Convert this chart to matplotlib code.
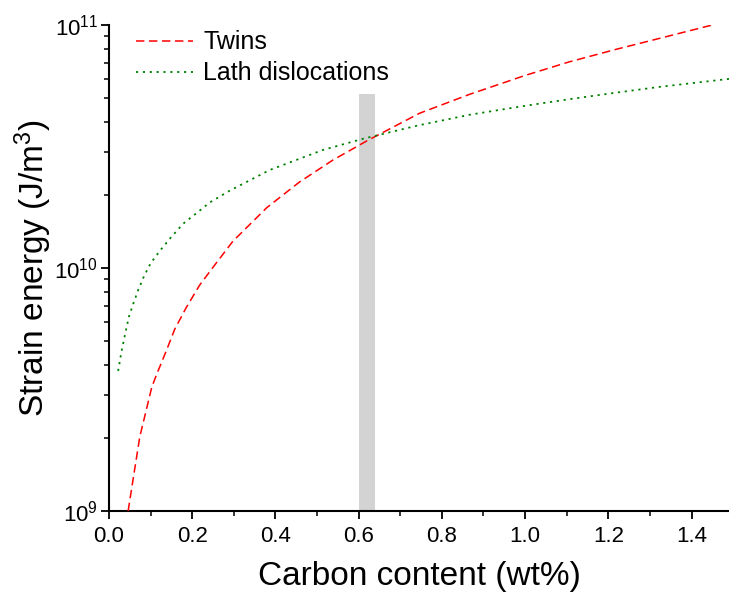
import matplotlib
matplotlib.use("Agg")
import matplotlib.pyplot as plt
from matplotlib.ticker import MultipleLocator, LogLocator

plt.rcParams['font.family'] = ['Liberation Sans', 'DejaVu Sans']
plt.rcParams['mathtext.fontset'] = 'custom'
plt.rcParams['mathtext.rm'] = 'Liberation Sans'
plt.rcParams['mathtext.it'] = 'Liberation Sans'

# Data
twins_x = [0.046, 0.074, 0.103, 0.114, 0.137, 0.158, 0.186, 0.218, 0.254, 0.298,
           0.379, 0.458, 0.538, 0.619, 0.746, 0.866, 1.000, 1.106, 1.220, 1.322, 1.450]
twins_y = [1.0e9, 2.02e9, 3.24e9, 3.63e9, 4.53e9, 5.6e9, 6.89e9, 8.51e9, 1.028e10, 1.29e10,
           1.77e10, 2.26e10, 2.78e10, 3.33e10, 4.33e10, 5.18e10, 6.2e10, 7.05e10, 7.95e10,
           8.8e10, 1.0e11]

lath_x = [0.022, 0.030, 0.040, 0.048, 0.058, 0.070, 0.084, 0.100, 0.122, 0.149,
          0.178, 0.210, 0.242, 0.290, 0.386, 0.514, 0.610, 0.740, 0.866, 1.000,
          1.106, 1.220, 1.322, 1.490]
lath_y = [3.77e9, 4.53e9, 5.47e9, 6.31e9, 7.1e9, 8.1e9, 9.24e9, 1.045e10, 1.175e10, 1.337e10,
          1.52e10, 1.68e10, 1.86e10, 2.08e10, 2.53e10, 3.06e10, 3.40e10, 3.85e10, 4.27e10, 4.65e10,
          4.95e10, 5.27e10, 5.56e10, 6.0e10]

band_x = [0.60, 0.64]
band_top = 5.2e10
band_bottom = 1e9

labels = ["Twins", "Lath dislocations"]

fig = plt.figure(figsize=(7.29, 5.92), dpi=100)
ax = fig.add_axes([0.1495, 0.1368, 0.8505, 0.821])

ax.fill_between(band_x, band_bottom, band_top, color='#d3d3d3', linewidth=0, zorder=1)
ax.plot(twins_x, twins_y, color='#ff0000', linestyle=(0, (5.5, 3)), linewidth=1.1,
        label=labels[0], zorder=3)
ax.plot(lath_x, lath_y, color='#008000', linestyle=(0, (1.2, 2.6)), linewidth=1.3,
        label=labels[1], zorder=3)

ax.set_yscale('log')
ax.set_ylim(1e9, 1e11)
ax.set_xlim(0, 1.49)

ax.xaxis.set_major_locator(MultipleLocator(0.2))
ax.xaxis.set_minor_locator(MultipleLocator(0.1))
ax.xaxis.set_major_formatter(matplotlib.ticker.FormatStrFormatter('%.1f'))
ax.yaxis.set_major_locator(LogLocator(base=10, numticks=10))
ax.yaxis.set_minor_locator(LogLocator(base=10, subs=range(2, 10), numticks=20))
ax.yaxis.set_minor_formatter(matplotlib.ticker.NullFormatter())

for s in ['top', 'right']:
    ax.spines[s].set_visible(False)
for s in ['left', 'bottom']:
    ax.spines[s].set_linewidth(1.5)

ax.tick_params(which='major', direction='out', length=6, width=1.3, labelsize=16, pad=5)
ax.tick_params(which='minor', direction='out', length=3.5, width=1.1)
ax.tick_params(axis='y', which='major', pad=2)

ax.set_xlabel('Carbon content (wt%)', fontsize=24, labelpad=10)
ax.set_ylabel('Strain energy (J/m$^3$)', fontsize=24, labelpad=0)

leg = ax.legend(loc='upper left', bbox_to_anchor=(0.007, 1.035), frameon=False,
                fontsize=18, handlelength=2.3, handletextpad=0.4, labelspacing=0.28)

fig.savefig('out.png', dpi=100)
